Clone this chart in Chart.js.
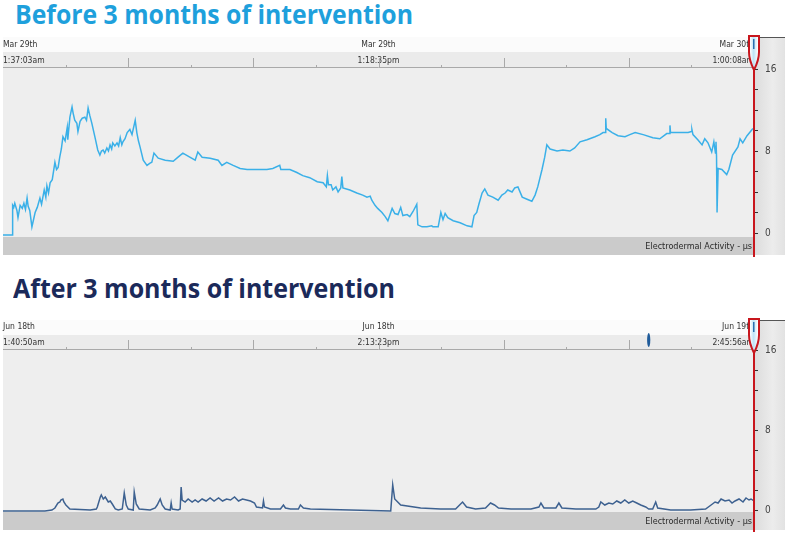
<!DOCTYPE html>
<html>
<head>
<meta charset="utf-8">
<script src="https://cdn.jsdelivr.net/npm/chart.js@4.4.1/dist/chart.umd.min.js"></script>
<style>
  html, body { margin: 0; padding: 0; background: #fff; }
  body { width: 785px; height: 537px; position: relative; overflow: hidden; }
  .title {
    position: absolute; font-family: "Open Sans", sans-serif; font-weight: 700;
    font-size: 26.6px; line-height: 1; white-space: nowrap; transform-origin: 0 0;
  }
  #title1 { left: 15px; top: 1px; color: #1ea0dc; }
  #title2 { left: 13px; top: 275px; color: #1b2a5a; }
  canvas { position: absolute; left: 0; }
  #before { top: 35px; }
  #after { top: 318px; }
</style>
</head>
<body>
<span class="title" id="title1">Before 3 months of intervention</span>
<span class="title" id="title2">After 3 months of intervention</span>
<canvas id="before" width="785" height="225"></canvas>
<canvas id="after" width="785" height="219"></canvas>
<script>
// minutes since the first sample, EDA in microsiemens
const beforeTime = [
  0, 17, 18, 20, 22, 26, 28, 32, 36, 39,
  42, 45, 47, 50, 54, 60, 64, 69, 72, 77,
  80, 82, 85, 88, 92, 97, 100, 103, 106, 109,
  112, 116, 120, 121, 125, 129, 131, 134, 138, 140,
  144, 148, 153, 156, 159, 162, 166, 172, 177, 181,
  184, 187, 190, 194, 197, 200, 203, 205, 209, 213,
  216, 219, 222, 224, 228, 232, 237, 241, 247, 250,
  253, 256, 262, 269, 274, 278, 282, 290, 303, 318,
  327, 336, 349, 359, 364, 372, 387, 402, 409, 418,
  430, 443, 456, 467, 480, 493, 504, 517, 519, 523,
  536, 549, 560, 573, 587, 598, 604, 606, 608, 613,
  616, 622, 626, 631, 633, 635, 648, 661, 672, 680,
  686, 689, 695, 700, 708, 714, 719, 727, 732, 738,
  743, 747, 755, 760, 766, 773, 775, 783, 792, 801,
  803, 813, 818, 822, 826, 831, 841, 854, 867, 876,
  880, 885, 889, 895, 900, 906, 915, 925, 932, 938,
  943, 951, 956, 962, 970, 979, 988, 994, 999, 1007,
  1012, 1016, 1022, 1035, 1046, 1059, 1068, 1078, 1091, 1106,
  1115, 1121, 1125, 1126, 1127, 1138, 1149, 1162, 1171, 1181,
  1196, 1214, 1227, 1240, 1245, 1246, 1247, 1265, 1280, 1286,
  1287, 1289, 1298, 1306, 1311, 1317, 1324, 1328, 1331, 1332,
  1333, 1334, 1336, 1343, 1352, 1356, 1363, 1373, 1377, 1382,
  1390, 1401
];
const beforeEda = [
  -0.2, -0.2, 2.7, 2.5, 2.9, 2.2, 1.5, 2.7, 2.4, 2.9,
  2.3, 3.4, 2.6, 2.2, 0.6, 2.0, 2.5, 3.4, 2.8, 4.2,
  3.5, 4.6, 3.9, 4.9, 5.2, 6.9, 6.2, 6.4, 7.4, 8.2,
  9.4, 9.0, 10.3, 9.1, 11.3, 12.3, 11.7, 11.0, 10.7, 9.9,
  10.9, 11.2, 11.3, 11.0, 12.2, 11.5, 10.7, 9.3, 8.1, 7.6,
  8.0, 8.1, 7.8, 8.3, 8.0, 8.6, 8.2, 8.8, 8.5, 8.8,
  8.5, 9.3, 8.6, 8.9, 9.2, 9.8, 10.1, 9.6, 11.0, 9.8,
  9.0, 8.4, 7.1, 6.6, 6.8, 6.9, 7.8, 7.3, 7.1, 7.0,
  7.4, 7.8, 7.4, 7.1, 7.9, 7.4, 7.3, 7.1, 6.6, 6.9,
  6.6, 6.3, 6.2, 6.2, 6.2, 6.2, 6.3, 6.6, 6.2, 6.2,
  6.2, 5.9, 5.6, 5.4, 5.0, 4.9, 4.5, 5.6, 4.7, 4.7,
  4.2, 4.5, 4.0, 4.4, 5.5, 4.4, 4.2, 3.9, 3.7, 3.5,
  3.6, 3.2, 2.7, 2.4, 2.0, 1.6, 1.2, 2.4, 1.9, 1.8,
  2.5, 1.7, 1.8, 1.6, 2.1, 2.8, 0.8, 0.6, 0.6, 0.7,
  0.6, 0.6, 2.0, 1.3, 1.9, 1.5, 1.2, 1.0, 0.7, 0.6,
  1.7, 2.0, 2.8, 3.9, 4.3, 3.7, 3.5, 3.2, 3.7, 3.9,
  4.2, 4.0, 4.4, 4.5, 3.5, 3.3, 3.1, 3.7, 4.5, 6.2,
  7.4, 8.6, 8.2, 8.0, 8.1, 8.0, 8.3, 8.9, 9.1, 9.4,
  9.6, 9.8, 9.8, 11.2, 10.2, 9.8, 9.5, 9.4, 9.6, 9.8,
  9.6, 9.3, 9.2, 9.7, 9.7, 10.5, 9.8, 9.8, 9.8, 9.9,
  10.1, 9.6, 9.1, 8.6, 9.2, 8.8, 7.9, 8.9, 7.8, 8.9,
  7.5, 2.0, 6.3, 6.2, 5.7, 6.2, 7.6, 8.4, 9.2, 8.8,
  9.5, 10.2
];

const afterTime = [
  0, 84, 98, 104, 110, 114, 116, 120, 122, 126,
  134, 175, 187, 189, 195, 197, 201, 205, 211, 215,
  219, 225, 231, 239, 243, 247, 251, 261, 263, 267,
  273, 295, 305, 309, 315, 319, 325, 335, 337, 339,
  351, 355, 357, 359, 365, 371, 379, 385, 391, 399,
  407, 415, 423, 432, 440, 448, 456, 464, 472, 480,
  488, 496, 504, 508, 520, 522, 524, 536, 556, 562,
  566, 576, 592, 596, 602, 616, 696, 777, 781, 785,
  797, 837, 877, 907, 917, 921, 929, 947, 967, 973,
  977, 985, 993, 1018, 1058, 1074, 1078, 1084, 1108, 1114,
  1120, 1148, 1188, 1194, 1198, 1206, 1214, 1222, 1230, 1238,
  1246, 1254, 1262, 1270, 1278, 1288, 1294, 1302, 1308, 1312,
  1338, 1378, 1408, 1419, 1427, 1433, 1439, 1447, 1455, 1461,
  1467, 1475, 1483, 1489, 1495, 1499, 1505
];
const afterEda = [
  -0.1, -0.1, 0, 0.2, 0.7, 0.8, 1.0, 1.1, 0.8, 0.5,
  0.1, 0, 0.1, 0.3, 1.3, 1.5, 1.1, 1.3, 0.8, 0.9,
  0.6, 0.1, 0, 0.1, 1.7, 0.5, 0.1, 0, 1.8, 0.6,
  0.1, 0, 0.2, 0.5, 1.1, 0.5, 0.1, 0, 0.7, 0.1,
  0, 0.1, 2.3, 1.0, 0.8, 1.1, 0.8, 1.0, 0.8, 1.1,
  0.9, 1.2, 0.9, 1.2, 0.9, 1.1, 1.0, 1.3, 0.9, 1.1,
  1.0, 0.9, 0.7, 0.3, 0.2, 0.9, 0.3, 0.1, 0.1, 0.5,
  0.2, 0.1, 0.1, 0.5, 0.2, 0.1, 0, -0.1, 2.5, 1.1,
  0.5, 0.2, 0.1, 0.1, 0.6, 0.8, 0.3, 0.1, 0.2, 0.5,
  0.7, 0.5, 0.2, 0.1, 0.1, 0.3, 0.7, 0.2, 0.2, 0.7,
  0.2, 0.1, 0.1, 0.3, 0.8, 0.5, 0.7, 0.6, 0.9, 0.7,
  1.0, 0.7, 0.9, 0.7, 0.5, 0.3, 0.1, 0.1, 0.8, 0.2,
  0, 0, 0.1, 0.5, 0.8, 0.7, 1.1, 0.9, 1.0, 0.7,
  0.9, 1.1, 0.8, 1.2, 1.0, 1.1, 0.9
];

const beforeSpan = 1403; // 1:37:03am -> 1:00:08am
const afterSpan = 1505;  // 1:40:50am -> 2:45:56am
const beforeDates = ["Mar 29th", "Mar 29th", "Mar 30th"];
const beforeClock = ["1:37:03am", "1:18:35pm", "1:00:08am"];
const afterDates = ["Jun 18th", "Jun 18th", "Jun 19th"];
const afterClock = ["1:40:50am", "2:13:23pm", "2:45:56am"];
const afterEvents = [1294];
const edaTicks = [0, 2, 4, 6, 8, 10, 12, 14, 16];
const edaLabels = [0, 8, 16];
const edaTitle = "Electrodermal Activity - \u00b5s";

const smallFont = "'Liberation Sans Narrow', 'DejaVu Sans Condensed', sans-serif";

function fitTitle(id, width) {
  const el = document.getElementById(id);
  el.style.transform = `scaleX(${width / el.getBoundingClientRect().width})`;
}
fitTitle("title1", 398);
fitTitle("title2", 382);

const panelDeco = {
  id: "panelDeco",
  beforeDraw(chart) {
    const ctx = chart.ctx;
    const a = chart.chartArea;
    const xs = chart.scales.x;
    const ys = chart.scales.y;
    const w = a.right - a.left;
    const mid = xs.top + 15;
    ctx.save();
    ctx.fillStyle = "#fbfbfb";
    ctx.fillRect(a.left, xs.top, w, mid - xs.top);
    ctx.fillStyle = "#ebebeb";
    ctx.fillRect(a.left, mid, w, xs.bottom - mid);
    ctx.fillStyle = "#eeeeee";
    ctx.fillRect(a.left, a.top, w, a.bottom - a.top);
    ctx.fillStyle = "#cbcbcb";
    ctx.fillRect(a.left, a.bottom, w, 18);
    const g = ctx.createLinearGradient(ys.left, 0, ys.right, 0);
    g.addColorStop(0, "#dcdcdc");
    g.addColorStop(0.6, "#ececec");
    g.addColorStop(1, "#e2e2e2");
    ctx.fillStyle = g;
    ctx.fillRect(ys.left, xs.top, ys.right - ys.left, a.bottom + 18 - xs.top);
    ctx.restore();
  },
  afterDraw(chart, args, opts) {
    const ctx = chart.ctx;
    const a = chart.chartArea;
    const xs = chart.scales.x;
    const ys = chart.scales.y;
    ctx.save();
    // header bottom line + time ticks
    ctx.strokeStyle = "#a9a9a9";
    ctx.lineWidth = 1;
    ctx.beginPath();
    ctx.moveTo(a.left, xs.bottom + 0.5);
    ctx.lineTo(a.right, xs.bottom + 0.5);
    xs.ticks.forEach((t, i) => {
      if (i === 0 || i === xs.ticks.length - 1) return;
      const x = Math.round(xs.getPixelForValue(t.value)) + 0.5;
      ctx.moveTo(x, xs.bottom - (i % 2 ? 2 : 9));
      ctx.lineTo(x, xs.bottom);
    });
    ctx.stroke();
    // band title
    ctx.fillStyle = "#2a2a2a";
    ctx.font = "9px " + smallFont;
    ctx.textAlign = "right";
    ctx.textBaseline = "middle";
    ctx.fillText(edaTitle, a.right - 2, a.bottom + 10);
    // event markers
    (opts.events || []).forEach((t) => {
      const x = xs.getPixelForValue(t);
      ctx.fillStyle = "#1f5b9a";
      ctx.beginPath();
      ctx.ellipse(x, xs.top + 20, 1.6, 7, 0, 0, Math.PI * 2);
      ctx.fill();
    });
    // gutter top edge
    ctx.strokeStyle = "#555";
    ctx.beginPath();
    ctx.moveTo(ys.left, xs.top + 0.5);
    ctx.lineTo(ys.right, xs.top + 0.5);
    ctx.stroke();
    // red cursor line
    const x0 = ys.left;
    ctx.fillStyle = "#c8161d";
    ctx.fillRect(x0 - 1, xs.top, 2, a.bottom + 20 - xs.top);
    // cursor handle
    const top = xs.top - 1;
    ctx.beginPath();
    ctx.moveTo(x0 - 5, top);
    ctx.lineTo(x0 + 5, top);
    ctx.lineTo(x0 + 5, top + 16);
    ctx.quadraticCurveTo(x0 + 5, top + 24, x0, top + 34);
    ctx.quadraticCurveTo(x0 - 5, top + 24, x0 - 5, top + 16);
    ctx.closePath();
    const hg = ctx.createLinearGradient(x0 - 4, 0, x0 + 4, 0);
    hg.addColorStop(0, "#ffffff");
    hg.addColorStop(0.45, "#bfe3f5");
    hg.addColorStop(1, "#ffffff");
    ctx.fillStyle = hg;
    ctx.fill();
    ctx.lineWidth = 2;
    ctx.strokeStyle = "#c8161d";
    ctx.stroke();
    ctx.fillStyle = "#2a6fb0";
    ctx.fillRect(x0 - 1, top + 3, 1.5, 10);
    ctx.restore();
  }
};

function drawPanel(id, p) {
  new Chart(document.getElementById(id), {
    type: "line",
    data: {
      datasets: [{
        data: p.time.map((t, i) => ({ x: t, y: p.eda[i] })),
        borderColor: p.color,
        borderWidth: 1.5,
        pointRadius: 0,
        tension: 0
      }]
    },
    options: {
      responsive: false,
      animation: false,
      devicePixelRatio: 1,
      events: [],
      layout: { padding: { top: 2, left: 3, right: 0, bottom: p.padBottom } },
      plugins: {
        legend: { display: false },
        tooltip: { enabled: false },
        panelDeco: { events: p.events }
      },
      scales: {
        x: {
          type: "linear",
          position: "top",
          min: 0,
          max: p.span,
          afterBuildTicks: (s) => {
            s.ticks = Array.from({ length: 13 }, (_, i) => ({ value: (p.span * i) / 12 }));
          },
          afterFit: (s) => { s.height = p.headerH; },
          grid: { display: false, drawTicks: false },
          border: { display: false },
          ticks: {
            autoSkip: false,
            maxRotation: 0,
            align: "inner",
            padding: -2,
            color: "#333",
            font: { family: smallFont, size: 8.5, lineHeight: "16px" },
            callback: (v, i) => (i % 6 === 0 ? [p.dates[i / 6], p.clock[i / 6]] : "")
          }
        },
        y: {
          position: "right",
          min: p.yMin,
          max: p.yMax,
          afterBuildTicks: (s) => { s.ticks = edaTicks.map((v) => ({ value: v })); },
          afterFit: (s) => { s.width = 31; },
          grid: { drawOnChartArea: false, tickLength: 4, color: "#333" },
          border: { display: false },
          ticks: {
            padding: 7,
            color: "#444",
            font: { family: smallFont, size: 10 },
            callback: (v) => (edaLabels.includes(v) ? String(v) : "")
          }
        }
      }
    },
    plugins: [panelDeco]
  });
}

drawPanel("before", {
  time: beforeTime, eda: beforeEda, span: beforeSpan,
  dates: beforeDates, clock: beforeClock, events: [],
  color: "#3ab0e8", yMin: -0.39, yMax: 16.2, headerH: 30, padBottom: 23
});
drawPanel("after", {
  time: afterTime, eda: afterEda, span: afterSpan,
  dates: afterDates, clock: afterClock, events: afterEvents,
  color: "#3d6190", yMin: -0.2, yMax: 16.1, headerH: 29, padBottom: 25
});
</script>
</body>
</html>
